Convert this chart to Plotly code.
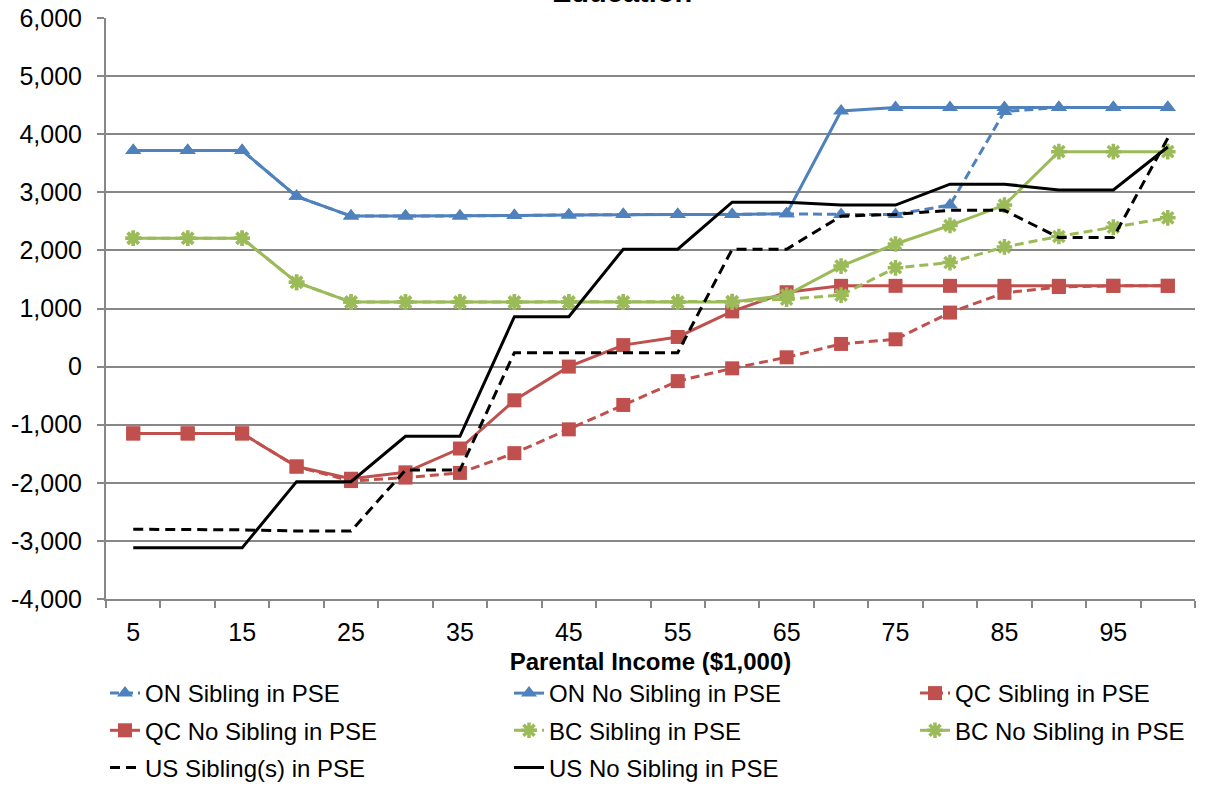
import plotly.graph_objects as go

# Parental income categories ($1,000)
income = [5, 10, 15, 20, 25, 30, 35, 40, 45, 50, 55, 60, 65, 70, 75, 80, 85, 90, 95, 100]
income_tick_labels = ["5", "15", "25", "35", "45", "55", "65", "75", "85", "95"]
income_tick_vals = [5, 15, 25, 35, 45, 55, 65, 75, 85, 95]

value_tick_vals = [-4000, -3000, -2000, -1000, 0, 1000, 2000, 3000, 4000, 5000, 6000]
value_tick_labels = ["-4,000", "-3,000", "-2,000", "-1,000", "0", "1,000",
                     "2,000", "3,000", "4,000", "5,000", "6,000"]

on_sibling = [3720, 3720, 3720, 2930, 2590, 2590, 2590, 2600, 2610, 2620,
              2620, 2620, 2630, 2620, 2620, 2780, 4390, 4460, 4460, 4460]
on_no_sibling = [3720, 3720, 3720, 2930, 2590, 2590, 2590, 2600, 2610, 2620,
                 2620, 2620, 2630, 4400, 4460, 4460, 4460, 4460, 4460, 4460]
qc_sibling = [-1150, -1150, -1150, -1720, -1970, -1910, -1830, -1490, -1080, -660,
              -250, -30, 160, 390, 470, 930, 1270, 1370, 1390, 1390]
qc_no_sibling = [-1150, -1150, -1150, -1720, -1930, -1820, -1410, -580, 0, 370,
                 510, 950, 1280, 1390, 1390, 1390, 1390, 1390, 1390, 1390]
bc_sibling = [2210, 2210, 2210, 1450, 1110, 1110, 1110, 1110, 1110, 1110,
              1110, 1120, 1160, 1230, 1700, 1790, 2060, 2240, 2400, 2560]
bc_no_sibling = [2210, 2210, 2210, 1450, 1110, 1110, 1110, 1110, 1110, 1110,
                 1110, 1110, 1230, 1730, 2110, 2430, 2780, 3700, 3700, 3700]
us_sibling = [-2800, -2800, -2810, -2830, -2830, -1780, -1780, 240, 240, 240,
              240, 2020, 2020, 2590, 2620, 2690, 2690, 2220, 2220, 3930]
us_no_sibling = [-3120, -3120, -3120, -1980, -1980, -1200, -1200, 860, 860, 2020,
                 2020, 2830, 2830, 2780, 2780, 3140, 3140, 3040, 3040, 3780]

BLUE = "#4F81BD"
RED = "#C0504D"
GREEN = "#9BBB59"
BLACK = "#000000"
FONT = "Liberation Sans, Arial, sans-serif"

series = [
    # name, values, color, dash, marker symbol, legend column
    ("ON Sibling in PSE", on_sibling, BLUE, "9px,5px", "triangle-up", "legend"),
    ("ON No Sibling in PSE", on_no_sibling, BLUE, "solid", "triangle-up", "legend2"),
    ("QC Sibling in PSE", qc_sibling, RED, "9px,5px", "square", "legend3"),
    ("QC No Sibling in PSE", qc_no_sibling, RED, "solid", "square", "legend"),
    ("BC Sibling in PSE", bc_sibling, GREEN, "9px,5px", "asterisk-open", "legend2"),
    ("BC No Sibling in PSE", bc_no_sibling, GREEN, "solid", "asterisk-open", "legend3"),
    ("US Sibling(s) in PSE", us_sibling, BLACK, "10px,6px", None, "legend"),
    ("US No Sibling in PSE", us_no_sibling, BLACK, "solid", None, "legend2"),
]

fig = go.Figure()
for name, vals, color, dash, symbol, leg in series:
    if symbol is None:
        mode = "lines"
        marker = None
    elif symbol == "asterisk-open":
        mode = "lines+markers"
        marker = dict(symbol=symbol, size=13, color=color,
                      line=dict(color=color, width=3.5))
    else:
        mode = "lines+markers"
        marker = dict(symbol=symbol, size=14, color=color,
                      line=dict(width=0))
    fig.add_trace(go.Scatter(
        x=income, y=vals, name=name, mode=mode,
        line=dict(color=color, width=3, dash=dash),
        marker=marker, legend=leg, legendgroup=name,
    ))

plot_left, plot_right = 106, 1195
plot_top, plot_bottom = 18, 599
plot_w = plot_right - plot_left
plot_h = plot_bottom - plot_top


def px_x(p):
    return (p - plot_left) / plot_w


def px_y(p):
    return (plot_bottom - p) / plot_h


legend_style = dict(
    orientation="v", xanchor="left", yanchor="top",
    font=dict(family=FONT, size=24, color="#000000"),
    bgcolor="rgba(0,0,0,0)", tracegroupgap=3, traceorder="grouped",
)

fig.update_layout(
    width=1212, height=786,
    margin=dict(l=plot_left, r=1212 - plot_right, t=plot_top, b=786 - plot_bottom,
                autoexpand=False),
    paper_bgcolor="white", plot_bgcolor="white",
    font=dict(family=FONT, size=24, color="#000000"),
    showlegend=True,
    legend=dict(x=px_x(105), y=px_y(671), **legend_style),
    legend2=dict(x=px_x(509), y=px_y(671), **legend_style),
    legend3=dict(x=px_x(915), y=px_y(671), **legend_style),
    xaxis=dict(
        range=[2.5, 102.5],
        tickmode="array", tickvals=income_tick_vals, ticktext=income_tick_labels,
        ticks="", showgrid=False, zeroline=False,
        showline=True, linecolor="#878787", linewidth=2,
        tickfont=dict(family=FONT, size=25),
        ticklabelstandoff=10,
        minor=dict(tick0=2.5, dtick=5, ticks="outside", ticklen=7,
                   tickcolor="#878787", tickwidth=2, showgrid=False),
        title=dict(text="<b>Parental Income ($1,000)</b>",
                   font=dict(family=FONT, size=24), standoff=8),
    ),
    yaxis=dict(
        range=[-4000, 6000],
        tickmode="array", tickvals=value_tick_vals, ticktext=value_tick_labels,
        ticks="outside", ticklen=7, tickcolor="#878787", tickwidth=2,
        ticklabelstandoff=10,
        showgrid=True, gridcolor="#878787", gridwidth=1.6,
        zeroline=False,
        showline=True, linecolor="#878787", linewidth=2,
        tickfont=dict(family=FONT, size=25),
    ),
    annotations=[dict(
        text="<b>Education</b>", xref="paper", yref="paper",
        x=px_x(622), y=1, xanchor="center", yanchor="bottom", yshift=8,
        showarrow=False, font=dict(family=FONT, size=29, color="#000000"),
    )],
)

fig.write_html("out.html")
